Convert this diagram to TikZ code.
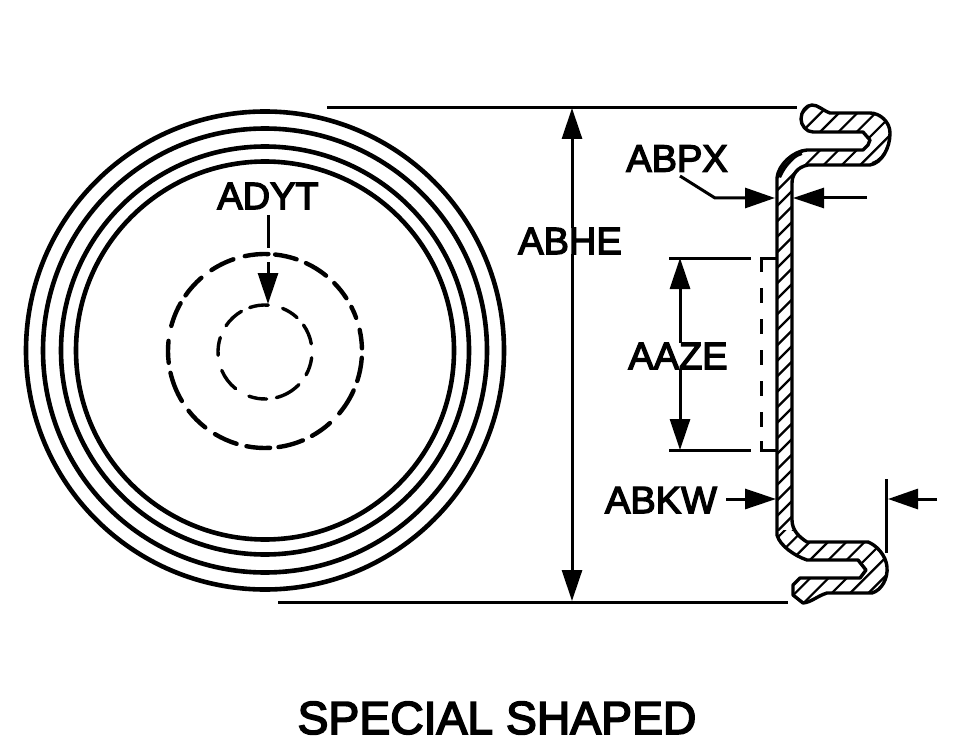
\documentclass[tikz,border=0pt]{standalone}
\usepackage{fontspec}
\newfontfamily\lblfont[FakeBold=3.6]{Liberation Sans}
\usetikzlibrary{arrows.meta}
\tikzset{
  lbl/.style={inner sep=0pt,font=\lblfont\fontsize{38}{38}\selectfont},
  titlelbl/.style={inner sep=0pt,font=\lblfont\fontsize{46.3}{46}\selectfont},
  ring/.style={line width=4.6pt},
  dimline/.style={line width=3pt},
  tipped/.style={dimline,-{Triangle[length=31pt,width=20pt]}},
  outline/.style={line width=3.4pt,line join=round},
  hatchline/.style={line width=2.2pt},
  bigdash/.style={line width=4.4pt,line cap=round},
  smalldash/.style={line width=3.4pt,line cap=round},
}
\begin{document}
\begin{tikzpicture}[x=1pt,y=-1pt]
\useasboundingbox (0,0) rectangle (957,743);
\coordinate (c) at (265,350.5);
\coordinate (cb) at (265,351);
\coordinate (cs) at (265,352);
\foreach \r in {239,222,204,189}{\draw[ring] (c) circle[radius=\r];}
\foreach \a/\b in {102/88,84/71,65/51,44.4/33,27/20,12.6/1.6,-4/-18,-24/-40,-48/-61,-67/-82,-87/-101,-107/-121,-128/-142,-149/-167,-173/-186,-195/-209.5,-215/-229,-236.5/-251}{
  \draw[bigdash] (cb) ++({-\a}:97) arc[start angle={-\a},end angle={-\b},radius=97];
}
\foreach \a/\b in {109/86,68/47,35/10,-7/-29,-44/-76,-88/-110,-128.6/-157,-176/-198,-214/-240}{
  \draw[smalldash] (cs) ++({-\a}:47) arc[start angle={-\a},end angle={-\b},radius=47];
}
\node[lbl] (adyt) at (268,196) {ADYT};
\coordinate (adytA) at (268,215);
\coordinate (adytB) at (268,248);
\coordinate (adytC) at (268,262);
\coordinate (adytD) at (268,304);
\draw[dimline] (adytA) -- (adytB);
\draw[tipped] (adytC) -- (adytD);
\coordinate (t1) at (327,107.5); \coordinate (t2) at (797,107.5);
\coordinate (b1) at (278,602); \coordinate (b2) at (788,602);
\draw[dimline] (t1)--(t2); \draw[dimline] (b1)--(b2);
\node[lbl] (abhe) at (570,241) {ABHE};
\coordinate (ah1) at (572,108); \coordinate (ah2) at (572,601);
\draw[tipped] (abhe.north -| ah1) -- (ah1);
\draw[tipped] (abhe.south -| ah1) -- (ah2);
\node[lbl] (aaze) at (678,356) {AAZE};
\coordinate (az1) at (680,258); \coordinate (az2) at (680,450);
\draw[dimline] (669,258) -- (751,258);
\draw[dimline] (669,450) -- (751,450);
\draw[tipped] (aaze.north -| az1) -- (az1);
\draw[tipped] (aaze.south -| az2) -- (az2);
\draw[line width=3pt,dash pattern=on 30pt off 16pt on 15pt off 16pt on 15pt off 16pt on 15pt off 16pt on 15pt off 16pt on 15pt off 14pt on 30pt off 10pt] (777,258) -- (761,258) -- (761,450) -- (777,450);
\node[lbl] (abpx) at (677,158.5) {ABPX};
\coordinate (px0) at (680,176); \coordinate (px1) at (715,198);
\coordinate (px2) at (775,198); \coordinate (px3) at (867,198); \coordinate (px4) at (793,198);
\draw[dimline,-{Triangle[length=30pt,width=20pt]}] (px0) -- (px1) -- (px2);
\draw[dimline,-{Triangle[length=31pt,width=20pt]}] (px3) -- (px4);
\node[lbl] (abkw) at (661,500) {ABKW};
\coordinate (kw1) at (726,499); \coordinate (kw2) at (776,499);
\draw[dimline,-{Triangle[length=31pt,width=20pt]}] (kw1) -- (kw2);
\coordinate (r1) at (886.5,479); \coordinate (r2) at (886.5,553);
\draw[dimline] (r1) -- (r2);
\coordinate (r3) at (937,499); \coordinate (r4) at (888,499);
\draw[dimline,-{Triangle[length=30pt,width=20pt]}] (r3) -- (r4);
% section outline
\def\secpath{(777,178) -- (777,535)
 .. controls (780,546) and (795,556) .. (807,560) -- (858,560)
 -- (866,570) -- (860,578) -- (800,578)
 -- (793,585) -- (793,595) -- (803,603)
 .. controls (812,602) and (817,596) .. (827,593) -- (872,593)
 .. controls (882,590) and (888,578) .. (887,567)
 .. controls (886,555) and (876,545) .. (868,542) -- (807,542)
 .. controls (799,537) and (792,530) .. (792,520)
 -- (792,183) .. controls (792,175) and (797,167) .. (808,165) -- (870,165)
 .. controls (882,163) and (890,148) .. (890,133)
 .. controls (890,122) and (880,113) .. (870,113) -- (830,113)
 .. controls (822,110) and (818,105) .. (812,105)
 .. controls (806,105) and (801,112) .. (801,119)
 .. controls (801,125) and (806,132) .. (813,132) -- (863,132)
 -- (870,140) -- (868,145) -- (863,150) -- (807,150)
 .. controls (793,151) and (778,165) .. (777,178) -- cycle}
\begin{scope}
\clip \secpath;
\begin{scope}
 \clip (760,100) rectangle (900,172);
 \foreach \k in {-3,...,8}{
  \pgfmathsetmacro{\s}{952+\k*18.3}
  \draw[hatchline] ({\s-100},100) -- ({\s-180},180);
 }
\end{scope}
\begin{scope}
 \clip (760,172) rectangle (900,530);
 \foreach \k in {-22,...,5}{
  \pgfmathsetmacro{\s}{1262+\k*15.5}
  \draw[hatchline] ({\s-160},160) -- ({\s-540},540);
 }
\end{scope}
\begin{scope}
 \clip (760,530) rectangle (900,610);
 \foreach \k in {-5,...,8}{
  \pgfmathsetmacro{\s}{1370+\k*18.3}
  \draw[hatchline] ({\s-520},520) -- ({\s-620},620);
 }
\end{scope}
\end{scope}
\draw[outline] \secpath;
\fill (779,177) .. controls (781,167) and (790,157) .. (801,152) -- (805,151) .. controls (795,157) and (786,166) .. (781,178) -- cycle;
\draw[line width=2pt] (778,178) .. controls (781,168) and (790,158) .. (802,154);
\draw[line width=2pt] (887,147) .. controls (884,155) and (880,160) .. (872,163);
\node[titlelbl] (title) at (497,718) {SPECIAL SHAPED};
\end{tikzpicture}
\end{document}
